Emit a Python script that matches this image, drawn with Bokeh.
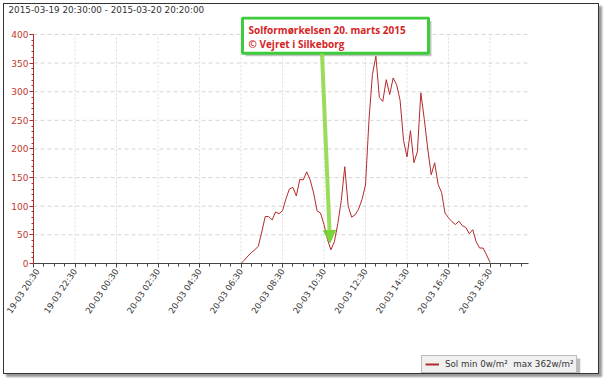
import math
import pandas as pd
from bokeh.plotting import figure
from bokeh.layouts import column
from bokeh.models import (FixedTicker, DatetimeTickFormatter, Range1d, Legend, LegendItem,
                          BoxAnnotation, Label, Arrow, NormalHead)
from bokeh.embed import file_html
from bokeh.resources import INLINE

# ---------------- data ----------------
title_text = "2015-03-19 20:30:00 - 2015-03-20 20:20:00"
range_start = "2015-03-19 20:30"
range_end = "2015-03-20 20:20"
series_start = "2015-03-20 06:30"
series_step = "10min"
sol = [0, 6, 13, 19, 24, 30, 55, 82, 82, 76, 90, 87, 92, 113, 130, 133, 118, 147, 146, 160,
       146, 123, 92, 88, 68, 42, 24, 38, 70, 110, 169, 100, 81, 85, 95, 112, 137, 250, 330, 362,
       290, 283, 321, 295, 324, 312, 285, 215, 186, 232, 176, 195, 298, 252, 200, 155, 176, 138,
       124, 88, 80, 73, 68, 74, 66, 63, 52, 59, 38, 27, 27, 15, 2]
y_ticks = list(range(0, 401, 50))
y_minor = list(range(0, 401, 10))
legend_label = "Sol min 0w/m\u00b2\u00a0 max 362w/m\u00b2"
note_lines = ["Solformørkelsen 20. marts 2015", "© Vejret i Silkeborg"]

# ---------------- layout (pixels; canvas origin sits at page pixel 4,4) ----------------
W, H_MAIN, H_STRIP = 594, 341, 28
FRAME_L, FRAME_R, FRAME_T, FRAME_B = 29, 576, 11, 259
PX_PER_UNIT = 230 / 400.0
PX_PER_HOUR = 20.75


def ms(t):
    return pd.Timestamp(t).value // 10**6


HOUR = 3600000
x0, x1 = ms(range_start), ms(range_end)
x_view_end = x0 + (FRAME_R - FRAME_L) / PX_PER_HOUR * HOUR
y_view_end = 400 + (33 - (FRAME_T + 4)) / PX_PER_UNIT


def hx(px_img):  # page-x -> data x
    return x0 + (px_img - 33) / PX_PER_HOUR * HOUR


def vy(py_img):  # page-y -> data y
    return (263 - py_img) / PX_PER_UNIT


times = pd.date_range(series_start, periods=len(sol), freq=series_step)
x_major = [ms(t) for t in pd.date_range(range_start, range_end, freq="2h")]
x_minor = [ms(t) for t in pd.date_range(range_start, range_end, freq="30min")]

FONT = "DejaVu Sans"
RED = "#b52a2a"

p = figure(width=W, height=H_MAIN, x_axis_type="datetime", output_backend="svg",
           toolbar_location=None,
           x_range=Range1d(x0, x_view_end), y_range=Range1d(0, y_view_end),
           min_border_left=FRAME_L, min_border_right=W - FRAME_R,
           min_border_top=FRAME_T, min_border_bottom=H_MAIN - FRAME_B)
p.outline_line_color = None
p.background_fill_color = "white"
p.border_fill_color = "white"
p.xgrid.visible = False
p.ygrid.visible = False

p.title.text = title_text
p.title.align = "left"
p.title.vertical_align = "top"
p.title.offset = -25
p.title.standoff = 0
p.title.text_font = FONT
p.title.text_font_size = "8.8px"
p.title.text_font_style = "normal"
p.title.text_color = "#333333"

# grid lines, drawn within the data area only
p.segment(x0=x_major, x1=x_major, y0=[0] * len(x_major), y1=[400] * len(x_major),
          line_color="#dddddd", line_dash="2 2", line_width=1)
p.segment(x0=[x0] * len(y_ticks), x1=[x1] * len(y_ticks), y0=y_ticks, y1=y_ticks,
          line_color="#d5d5d5", line_dash="4 3", line_width=1)

line = p.line(times, sol, line_color=RED, line_width=1)

# axes
xa = p.xaxis[0]
xa.bounds = (x0, x1)
xa.ticker = FixedTicker(ticks=x_major, minor_ticks=x_minor)
xa.formatter = DatetimeTickFormatter(
    **{k: "%d-%m %H:%M" for k in ["milliseconds", "seconds", "minsec", "minutes", "hourmin",
                                   "hours", "days", "months", "years"]})
xa.major_label_orientation = math.radians(56)
xa.major_label_standoff = 2
xa.major_label_text_font = FONT
xa.major_label_text_font_size = "8.5px"
xa.major_label_text_color = "#333333"
xa.axis_line_color = "#444444"
xa.major_tick_line_color = "#444444"
xa.minor_tick_line_color = "#444444"
xa.major_tick_out = 4
xa.major_tick_in = 0
xa.minor_tick_out = 3
xa.minor_tick_in = 0

ya = p.yaxis[0]
ya.bounds = (0, 400)
ya.ticker = FixedTicker(ticks=y_ticks, minor_ticks=y_minor)
ya.major_label_text_font = FONT
ya.major_label_text_font_size = "9px"
ya.major_label_text_color = "#c0392b"
ya.major_label_standoff = 1
ya.axis_line_color = RED
ya.major_tick_line_color = RED
ya.minor_tick_line_color = RED
ya.major_tick_out = 4
ya.major_tick_in = 0
ya.minor_tick_out = 2
ya.minor_tick_in = 0

# note box with shadow (page-pixel anchors)
NOTE_L, NOTE_R, NOTE_T, NOTE_B = 242, 428, 16.5, 52
p.add_layout(BoxAnnotation(left=hx(NOTE_L + 3), right=hx(NOTE_R + 3),
                           top=vy(NOTE_T + 3), bottom=vy(NOTE_B + 3),
                           fill_color="#888888", fill_alpha=0.5, line_color=None))
p.add_layout(BoxAnnotation(left=hx(NOTE_L), right=hx(NOTE_R), top=vy(NOTE_T), bottom=vy(NOTE_B),
                           fill_color="white", fill_alpha=1, line_color="#3ccc3c",
                           line_width=3, line_alpha=1))
for txt, py in zip(note_lines, [29, 43]):
    p.add_layout(Label(x=hx(248), y=vy(py), text=txt, text_font="Open Sans",
                       text_font_style="bold", text_font_size="10px", text_color="#d42525",
                       text_baseline="middle", text_align="left"))

p.add_layout(Arrow(x_start=hx(321.5), y_start=vy(NOTE_B), x_end=hx(329.5), y_end=vy(242),
                   line_color="#8fd84a", line_width=4, line_alpha=0.9,
                   end=NormalHead(size=12, fill_color="#6fcf2a", line_color="#6fcf2a",
                                  fill_alpha=0.9)))

# ---------------- legend strip (its frame is aligned with the main frame) ----------------
strip = figure(width=W, height=H_STRIP, output_backend="svg", toolbar_location=None,
               x_axis_type="datetime",
               x_range=Range1d(0, 1), y_range=Range1d(0, 1),
               x_axis_location=None, y_axis_location=None,
               min_border_left=0, min_border_right=0, min_border_top=0, min_border_bottom=0)
strip.outline_line_color = None
strip.grid.visible = False
strip.background_fill_color = "white"
strip.border_fill_color = "white"
STRIP_W_PX = FRAME_R - FRAME_L
LEG_L, LEG_R, LEG_T, LEG_B = 421, 578, 356, 372   # page pixels


def sx(px):
    return (px - 33) / STRIP_W_PX


def sy(py):
    return (4 + H_MAIN + H_STRIP - py) / H_STRIP


strip.add_layout(BoxAnnotation(left=sx(LEG_L + 2), right=sx(LEG_R + 2),
                               top=sy(LEG_T + 2), bottom=sy(LEG_B + 2),
                               fill_color="#777777", fill_alpha=0.5, line_color=None))
# legend key: the same series, lying outside this strip's view so only its key shows
key = strip.line(times, sol, line_color=RED, line_width=2)
legend = Legend(items=[LegendItem(label=legend_label, renderers=[key])],
                location=(LEG_L - 33, 4 + H_MAIN + H_STRIP - LEG_B - 1), orientation="horizontal",
                background_fill_color="#f0f0f0", background_fill_alpha=1,
                border_line_color="#888888", border_line_width=1,
                label_text_font=FONT, label_text_font_size="8.7px", label_text_color="#333333",
                glyph_width=14, glyph_height=8, label_height=8, padding=3, margin=0,
                label_standoff=6, spacing=0)
strip.add_layout(legend, "center")

page = column(p, strip, spacing=0,
              styles={"margin-left": "3px", "margin-top": "3px", "border": "1px solid #333",
                      "box-shadow": "3px 3px 2px #999"})

open("out.html", "w").write(file_html(page, INLINE))
